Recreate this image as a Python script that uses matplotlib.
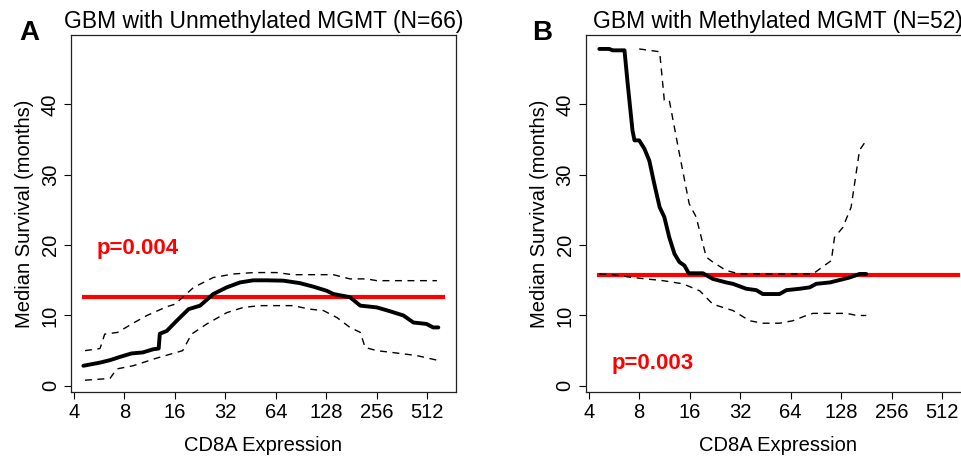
import matplotlib
matplotlib.use("Agg")
import matplotlib.pyplot as plt

plt.rcParams['font.family'] = ['Liberation Sans', 'DejaVu Sans']

# ---- Panel A: unmethylated MGMT ----
a_x = [4.55, 5.72, 6.56, 7.5, 8.8, 10.3, 11.9, 12.8, 13.0, 14.3, 16.4, 19.3, 22.6, 27.1,
       32.6, 39.1, 47, 56, 71, 89, 107, 129, 141, 177, 204, 256, 307, 369, 423, 506, 555, 596]
a_y = [2.85, 3.3, 3.65, 4.1, 4.6, 4.75, 5.2, 5.3, 7.4, 7.8, 9.25, 10.9, 11.4, 13.05,
       14.0, 14.7, 15.0, 15.0, 14.95, 14.6, 14.1, 13.5, 13.05, 12.6, 11.4, 11.15, 10.6, 10.0, 9.0, 8.8, 8.3, 8.3]

a_up_x = [4.65, 5.72, 6.1, 7.3, 9.0, 10.9, 14.3, 16, 20.7, 27.1, 35.7, 47, 64.6, 81,
          141, 177, 223, 256, 584]
a_up_y = [5.0, 5.3, 7.35, 7.6, 8.9, 10.0, 11.25, 11.6, 14.0, 15.4, 15.9, 16.1, 16.1, 15.8,
          15.8, 15.2, 15.2, 14.95, 14.95]

a_lo_x = [4.65, 6.56, 7.2, 9.0, 12.5, 17.8, 20.1, 24.8, 32.6, 41, 51.6, 81, 102, 123,
          148, 162, 177, 204, 218, 256, 353, 443, 584]
a_lo_y = [0.8, 1.05, 2.4, 2.85, 3.95, 5.0, 7.35, 8.8, 10.4, 11.15, 11.4, 11.4, 10.9, 10.7,
          9.7, 9.0, 8.3, 7.6, 5.45, 5.0, 4.6, 4.3, 3.65]

# ---- Panel B: methylated MGMT ----
b_x = [4.63, 5.3, 5.56, 6.54, 6.83, 7.3, 7.5, 8.0, 8.6, 9.2, 9.85, 10.6, 11.3, 12.1, 13.0,
       13.9, 14.9, 15.8, 19.2, 22, 26.4, 29, 34.8, 40, 43.7, 55, 60.4, 72.6, 83.3, 91, 110,
       126, 144, 165, 181]
b_y = [47.9, 47.9, 47.7, 47.7, 43.0, 36.3, 34.9, 34.9, 33.7, 32.0, 28.7, 25.4, 24.0, 21.1, 18.75,
       17.6, 17.1, 16.0, 16.0, 15.2, 14.7, 14.5, 13.8, 13.6, 13.05, 13.05, 13.6, 13.8, 14.0, 14.5, 14.7,
       15.05, 15.4, 15.9, 15.9]

b_up_x = [8.0, 9.2, 10.6, 11.3, 12.1, 13.9, 15.9, 17.5, 20.1, 22, 26.4, 31.8, 86.9, 104.6,
          112, 117, 131, 147, 165, 181]
b_up_y = [47.9, 47.7, 47.5, 40.6, 40.6, 33.0, 25.9, 24.0, 18.3, 17.6, 16.4, 15.9, 15.9, 17.3,
          17.8, 21.1, 22.5, 25.4, 33.5, 34.9]

b_lo_x = [4.63, 5.56, 7.3, 11.1, 14.6, 18.4, 22, 29, 36.5, 43.7, 55, 66, 79.5, 87, 138, 159, 181]
b_lo_y = [15.9, 15.8, 15.4, 14.95, 14.5, 13.5, 11.6, 10.7, 9.25, 8.9, 8.9, 9.25, 10.0, 10.3,
          10.3, 10.0, 10.0]

ref_x = [4.61, 638]
a_ref = 12.57
b_ref = 15.76

titles = ['GBM with Unmethylated MGMT (N=66)', 'GBM with Methylated MGMT (N=52)']
pvals = ['p=0.004', 'p=0.003']
p_pos = [(5.49, 18.75), (5.44, 2.38)]
letters = ['A', 'B']
xticks = [4, 8, 16, 32, 64, 128, 256, 512]

fig = plt.figure(figsize=(9.62, 4.57), dpi=100)
ax_a = fig.add_axes([71/962, 1-392/457, 385/962, 357/457])
ax_b = fig.add_axes([585.7/962, 1-392/457, 385/962, 357/457])

panels = [
    (ax_a, a_x, a_y, a_up_x, a_up_y, a_lo_x, a_lo_y, a_ref),
    (ax_b, b_x, b_y, b_up_x, b_up_y, b_lo_x, b_lo_y, b_ref),
]

for i, (ax, x, y, ux, uy, lx, ly, ref) in enumerate(panels):
    ax.plot(ref_x, [ref, ref], color='#ff0000', lw=3, zorder=2)
    ax.plot(ux, uy, color='black', lw=1, dashes=(5, 4), zorder=3)
    ax.plot(lx, ly, color='black', lw=1, dashes=(5, 4), zorder=3)
    ax.plot(x, y, color='black', lw=2.8, zorder=4, solid_capstyle='round')
    ax.set_xscale('log', base=2)
    ax.set_xlim(3.839, 759.5)
    ax.set_ylim(-0.88, 49.88)
    ax.set_xticks(xticks)
    ax.set_xticklabels([str(t) for t in xticks])
    ax.minorticks_off()
    ax.set_yticks([0, 10, 20, 30, 40])
    ax.set_yticklabels(['0', '10', '20', '30', '40'], rotation=90, va='center')
    ax.tick_params(direction='out', length=5, width=0.8, labelsize=14.5, pad=3)
    for s in ax.spines.values():
        s.set_linewidth(0.9)
        s.set_color('#222222')
    ax.set_xlabel('CD8A Expression', fontsize=14.5, labelpad=10)
    ax.set_ylabel('Median Survival (months)', fontsize=14.5, labelpad=5)
    ax.set_title(titles[i], fontsize=16.5, pad=5)
    px, py = p_pos[i]
    ax.text(px, py, pvals[i], color='#ff0000', fontsize=16, fontweight='bold',
            ha='left', va='baseline')

fig.text(19/962, 1-40/457, 'A', fontsize=20, fontweight='bold', ha='left', va='baseline')
fig.text(532/962, 1-40/457, 'B', fontsize=20, fontweight='bold', ha='left', va='baseline')

fig.savefig('out.png', dpi=100)
